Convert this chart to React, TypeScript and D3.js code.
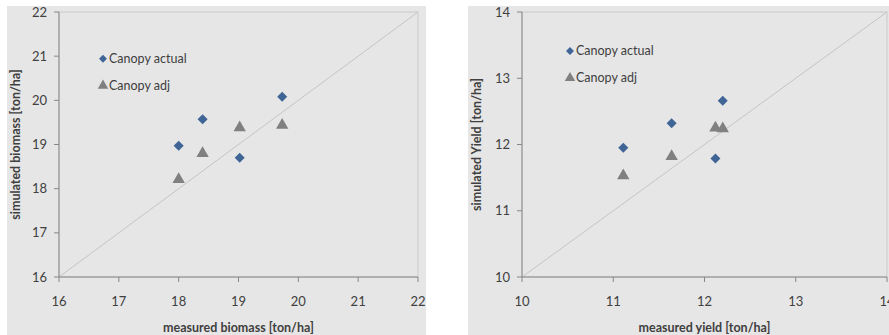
import React from 'react'
import * as d3 from 'd3'

// left panel: biomass
const biomassMeasured = [18.0, 18.4, 19.02, 19.73]
const biomassActual = [18.97, 19.57, 18.7, 20.08]
const biomassAdj = [18.21, 18.8, 19.38, 19.44]
const biomassTicks = [16, 17, 18, 19, 20, 21, 22]

// right panel: yield
const yieldMeasured = [11.11, 11.64, 12.12, 12.2]
const yieldActual = [11.95, 12.32, 11.79, 12.66]
const yieldAdj = [11.53, 11.82, 12.25, 12.24]
const yieldTicks = [10, 11, 12, 13, 14]

const seriesNames = ['Canopy actual', 'Canopy adj']

const FONT = 'Lato, "Open Sans", sans-serif'
const TEXT = '#404040'

type PanelProps = {
  ox: number
  ow: number
  left: number
  right: number
  ticks: number[]
  measured: number[]
  actual: number[]
  adj: number[]
  xTitle: string
  yTitle: string
  yTitleX: number
  legendX: number
  legendY: number
}

const diamond = d3.symbol().type(d3.symbolDiamond2).size(64)()
const triangle = d3.symbol().type(d3.symbolTriangle).size(66)()
const legDiamond = d3.symbol().type(d3.symbolDiamond2).size(40)()
const legTriangle = d3.symbol().type(d3.symbolTriangle).size(48)()

function Panel(p: PanelProps) {
  const top = 12, bottom = 277
  const dom = d3.extent(p.ticks) as [number, number]
  const x = d3.scaleLinear().domain(dom).range([p.left, p.right])
  const y = d3.scaleLinear().domain(dom).range([bottom, top])
  return (
    <g>
      <rect x={p.ox} y={6} width={p.ow} height={335} fill="#e6e6e6" />
      <rect x={p.left} y={top} width={p.right - p.left} height={bottom - top} fill="none" stroke="#cacaca" />
      <line x1={x(dom[0])} y1={y(dom[0])} x2={x(dom[1])} y2={y(dom[1])} stroke="#c4c4c4" strokeWidth={1} />
      <line x1={p.left} y1={top} x2={p.left} y2={bottom} stroke="#878787" />
      <line x1={p.left} y1={bottom} x2={p.right} y2={bottom} stroke="#878787" />
      {p.ticks.map(t => (
        <g key={'t' + t}>
          <line x1={p.left - 5} x2={p.left} y1={y(t)} y2={y(t)} stroke="#878787" />
          <line x1={x(t)} x2={x(t)} y1={bottom} y2={bottom + 5} stroke="#878787" />
          <text x={p.left - 12} y={y(t)} dy="0.35em" textAnchor="end" fontSize={13} fill={TEXT} fontFamily={FONT}>{t}</text>
          <text x={x(t)} y={301} dy="0.35em" textAnchor="middle" fontSize={13} fill={TEXT} fontFamily={FONT}>{t}</text>
        </g>
      ))}
      {p.measured.map((m, i) => (
        <path key={'b' + i} d={triangle} transform={`translate(${x(m)},${y(p.adj[i])})`} fill="#808080" />
      ))}
      {p.measured.map((m, i) => (
        <path key={'a' + i} d={diamond} transform={`translate(${x(m)},${y(p.actual[i])})`} fill="#3f6597" />
      ))}
      <path d={legDiamond} transform={`translate(${p.legendX},${p.legendY})`} fill="#3f6597" />
      <text x={p.legendX + 6} y={p.legendY} dy="0.35em" fontSize={12.5} fill={TEXT} fontFamily={FONT}>{seriesNames[0]}</text>
      <path d={legTriangle} transform={`translate(${p.legendX},${p.legendY + 27})`} fill="#808080" />
      <text x={p.legendX + 6} y={p.legendY + 27} dy="0.35em" fontSize={12.5} fill={TEXT} fontFamily={FONT}>{seriesNames[1]}</text>
      <text x={(p.left + p.right) / 2} y={328} dy="0.35em" textAnchor="middle" fontSize={12.5} fontWeight="bold" fill={TEXT} fontFamily={FONT}>{p.xTitle}</text>
      <text transform={`translate(${p.yTitleX},${(top + bottom) / 2}) rotate(-90)`} dy="0.35em" textAnchor="middle" fontSize={12.5} fontWeight="bold" fill={TEXT} fontFamily={FONT}>{p.yTitle}</text>
    </g>
  )
}

export default function App() {
  return (
    <svg width={889} height={335} style={{ position: 'absolute', left: 0, top: 0, background: '#fff' }}>
      <Panel ox={7} ow={419} left={59} right={418} ticks={biomassTicks}
        measured={biomassMeasured} actual={biomassActual} adj={biomassAdj}
        xTitle="measured biomass [ton/ha]" yTitle="simulated biomass [ton/ha]" yTitleX={16}
        legendX={103} legendY={58.7} />
      <Panel ox={468} ow={421} left={522} right={887} ticks={yieldTicks}
        measured={yieldMeasured} actual={yieldActual} adj={yieldAdj}
        xTitle="measured yield [ton/ha]" yTitle="simulated Yield [ton/ha]" yTitleX={477}
        legendX={570} legendY={51} />
    </svg>
  )
}
